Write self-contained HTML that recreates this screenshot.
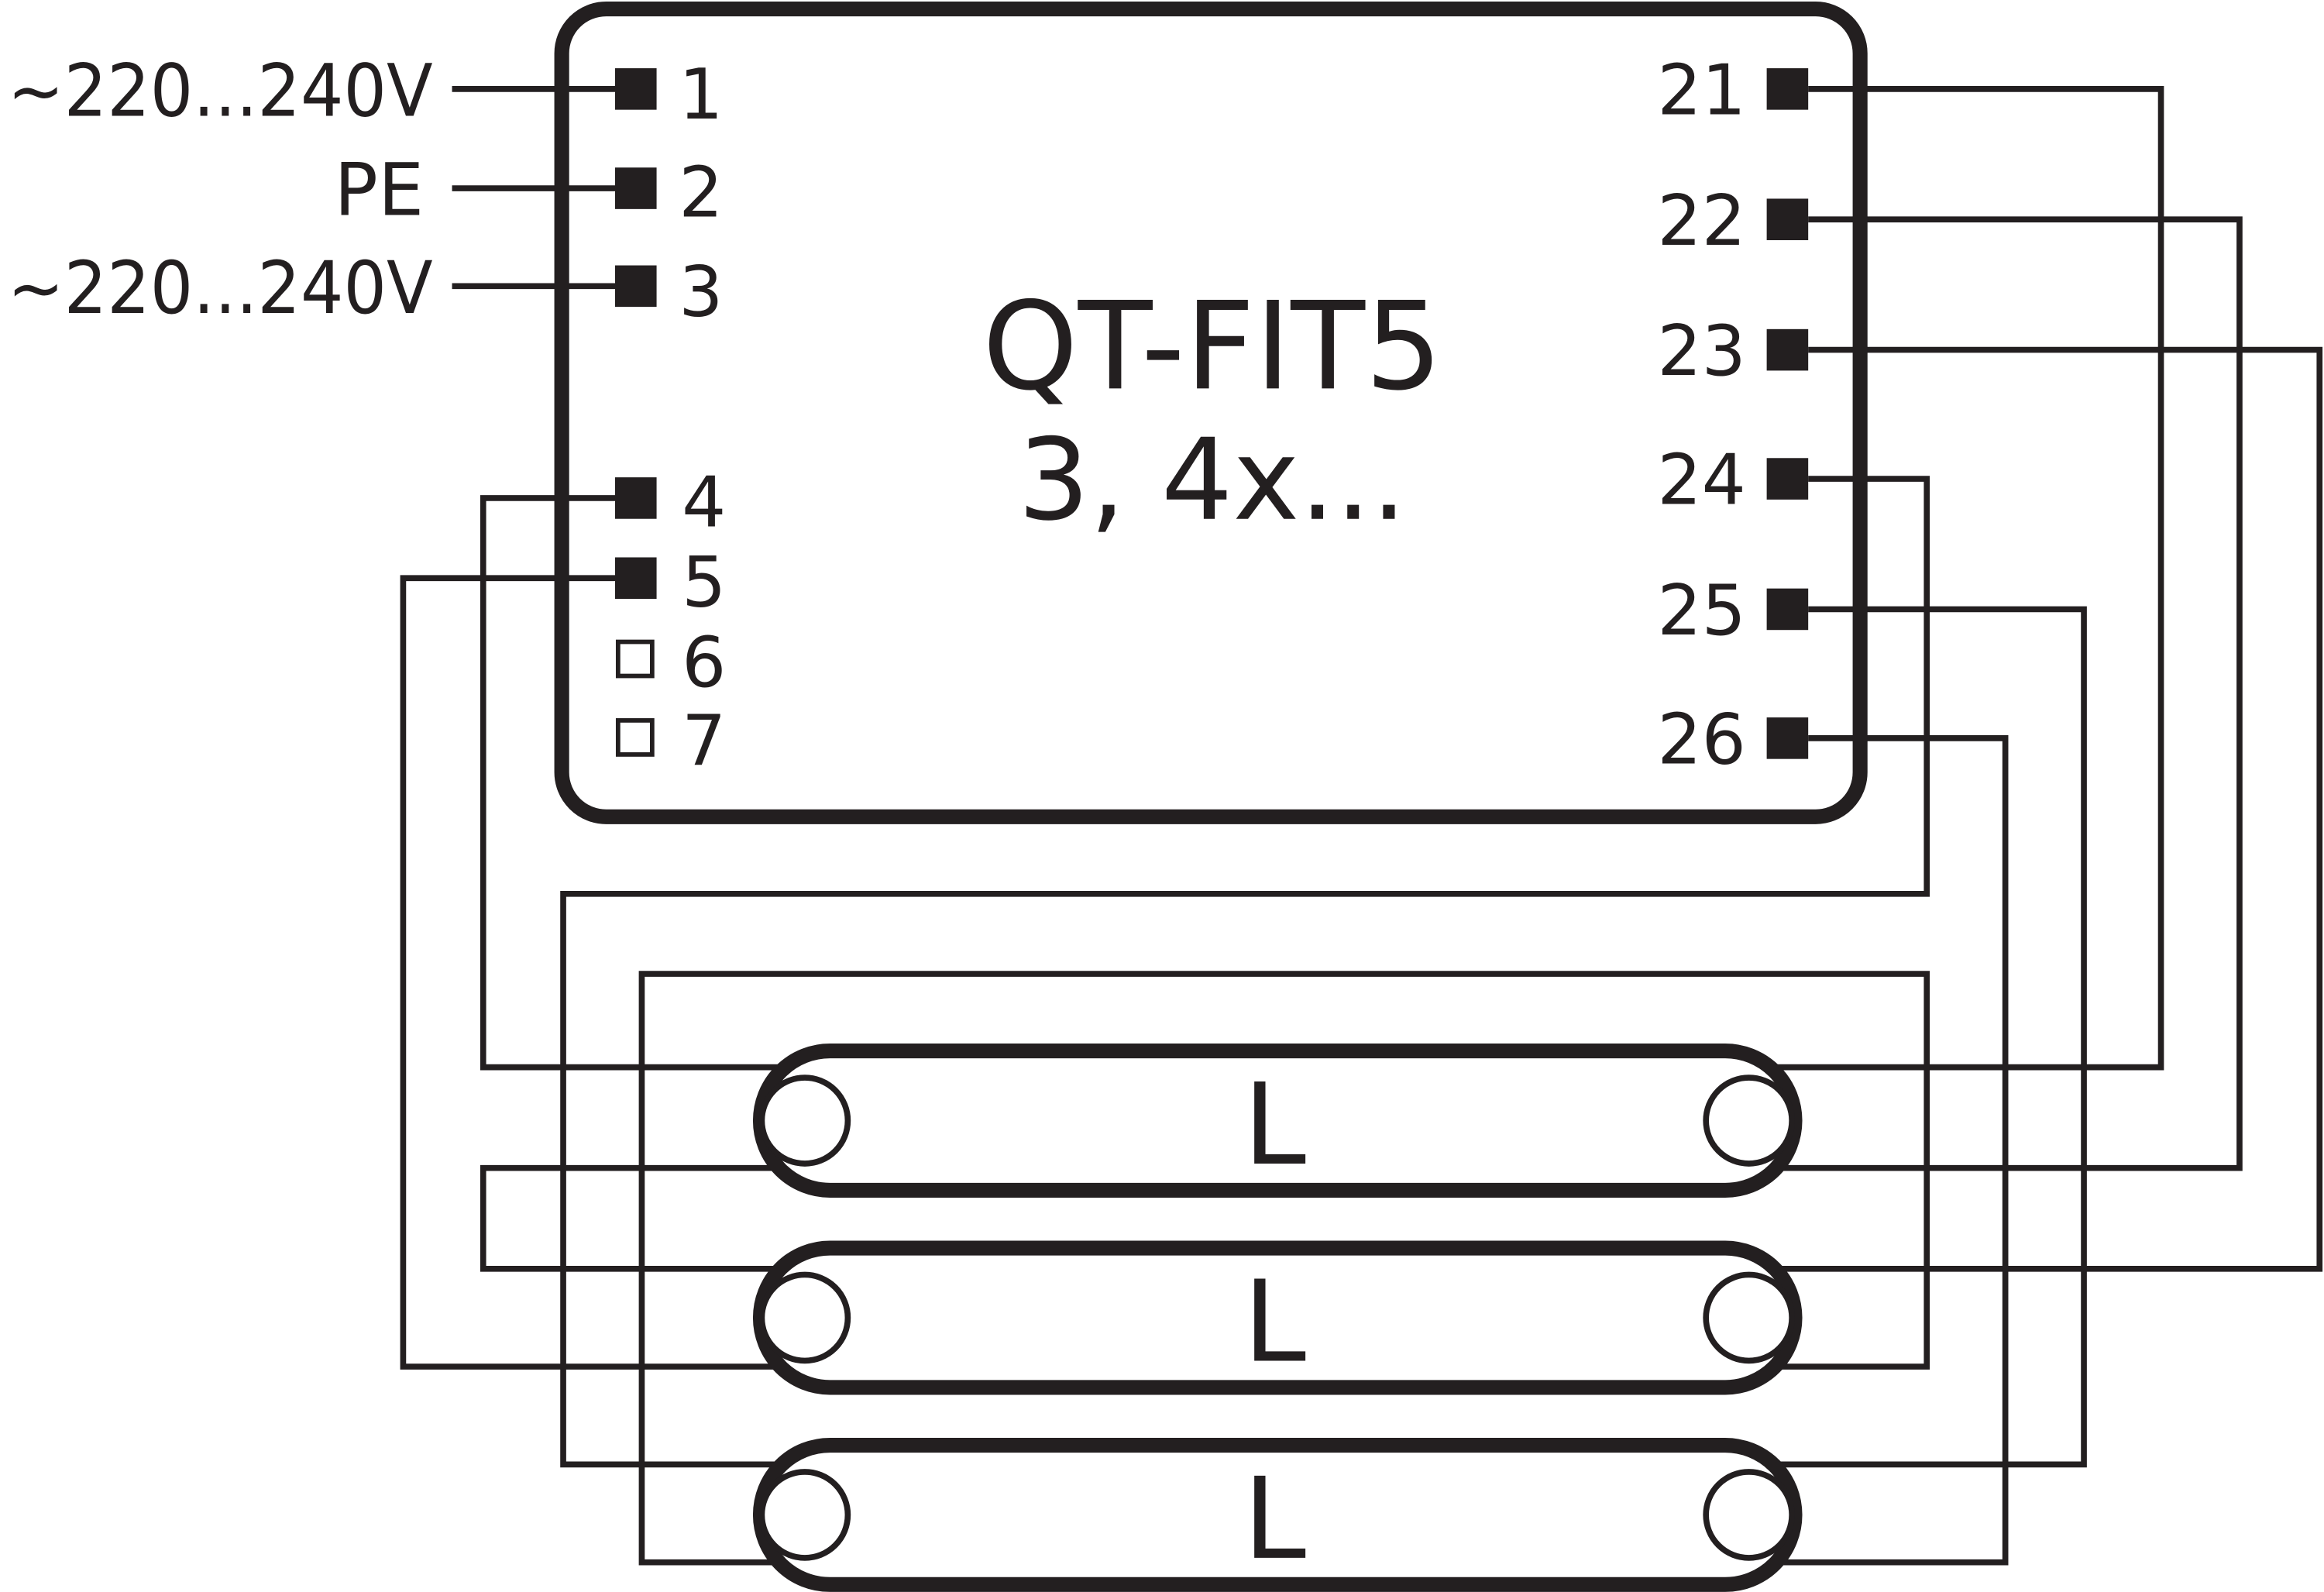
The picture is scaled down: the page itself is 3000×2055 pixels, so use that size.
<!DOCTYPE html>
<html><head><meta charset="utf-8"><style>html,body{margin:0;padding:0;background:#fff}svg{display:block}</style></head>
<body>
<svg width="3000" height="2055" viewBox="0 0 1568 1074" xmlns="http://www.w3.org/2000/svg" font-family="'DejaVu Sans','Liberation Sans',sans-serif" fill="#231f20">
<g fill="none" stroke="#231f20" stroke-width="4">
<line x1="305" y1="60" x2="415" y2="60"/>
<line x1="305" y1="127" x2="415" y2="127"/>
<line x1="305" y1="193" x2="415" y2="193"/>
<polyline points="1220,60 1458,60 1458,720 1190,720"/>
<polyline points="1220,148 1511,148 1511,788 1190,788"/>
<polyline points="1220,236 1565,236 1565,856 1190,856"/>
<polyline points="1220,323 1300,323 1300,603 380,603 380,988 525,988"/>
<polyline points="1220,411 1406,411 1406,988 1190,988"/>
<polyline points="1220,498 1353,498 1353,1054 1190,1054"/>
<polyline points="415,336 326,336 326,720 525,720"/>
<polyline points="415,390 272,390 272,922 525,922"/>
<polyline points="525,1054 433,1054 433,657 1300,657 1300,922 1190,922"/>
<polyline points="525,788 326,788 326,856 525,856"/>
</g>
<rect x="379" y="6" width="876" height="545" rx="30" fill="none" stroke="#231f20" stroke-width="10"/>
<g fill="#fff" stroke="#231f20">
<rect x="513" y="709" width="698" height="94" rx="47" stroke-width="10"/>
<rect x="513" y="842" width="698" height="94" rx="47" stroke-width="10"/>
<rect x="513" y="975" width="698" height="94" rx="47" stroke-width="10"/>
<circle cx="543" cy="756" r="29" stroke-width="4"/><circle cx="1180" cy="756" r="29" stroke-width="4"/>
<circle cx="543" cy="889" r="29" stroke-width="4"/><circle cx="1180" cy="889" r="29" stroke-width="4"/>
<circle cx="543" cy="1022" r="29" stroke-width="4"/><circle cx="1180" cy="1022" r="29" stroke-width="4"/>
</g>
<g>
<rect x="415" y="46" width="28" height="28"/>
<rect x="415" y="113" width="28" height="28"/>
<rect x="415" y="179" width="28" height="28"/>
<rect x="415" y="322" width="28" height="28"/>
<rect x="415" y="376" width="28" height="28"/>
<rect x="1192" y="46" width="28" height="28"/>
<rect x="1192" y="134" width="28" height="28"/>
<rect x="1192" y="222" width="28" height="28"/>
<rect x="1192" y="309" width="28" height="28"/>
<rect x="1192" y="397" width="28" height="28"/>
<rect x="1192" y="484" width="28" height="28"/>
</g>
<rect x="417" y="433" width="23" height="23" fill="none" stroke="#231f20" stroke-width="3"/>
<rect x="417" y="486" width="23" height="23" fill="none" stroke="#231f20" stroke-width="3"/>
<g font-size="47">
<text x="458" y="80">1</text>
<text x="458" y="146">2</text>
<text x="458" y="213">3</text>
<text x="460" y="355">4</text>
<text x="460" y="409">5</text>
<text x="460" y="463">6</text>
<text x="460" y="516">7</text>
<g text-anchor="end">
<text x="1178" y="77">21</text>
<text x="1178" y="165">22</text>
<text x="1178" y="253">23</text>
<text x="1178" y="340">24</text>
<text x="1178" y="428">25</text>
<text x="1178" y="515">26</text>
<text x="286" y="145" font-size="49">PE</text>
</g>
<text x="5" y="78" font-size="49" textLength="287" lengthAdjust="spacingAndGlyphs">~220...240V</text>
<text x="5" y="211" font-size="49" textLength="287" lengthAdjust="spacingAndGlyphs">~220...240V</text>
</g>
<g text-anchor="middle">
<text x="818" y="262" font-size="82">QT-FIT5</text>
<text x="818" y="350" font-size="76">3, 4x...</text>
<text x="860" y="785" font-size="76">L</text>
<text x="860" y="918" font-size="76">L</text>
<text x="860" y="1051" font-size="76">L</text>
</g>
</svg>
</body></html>
